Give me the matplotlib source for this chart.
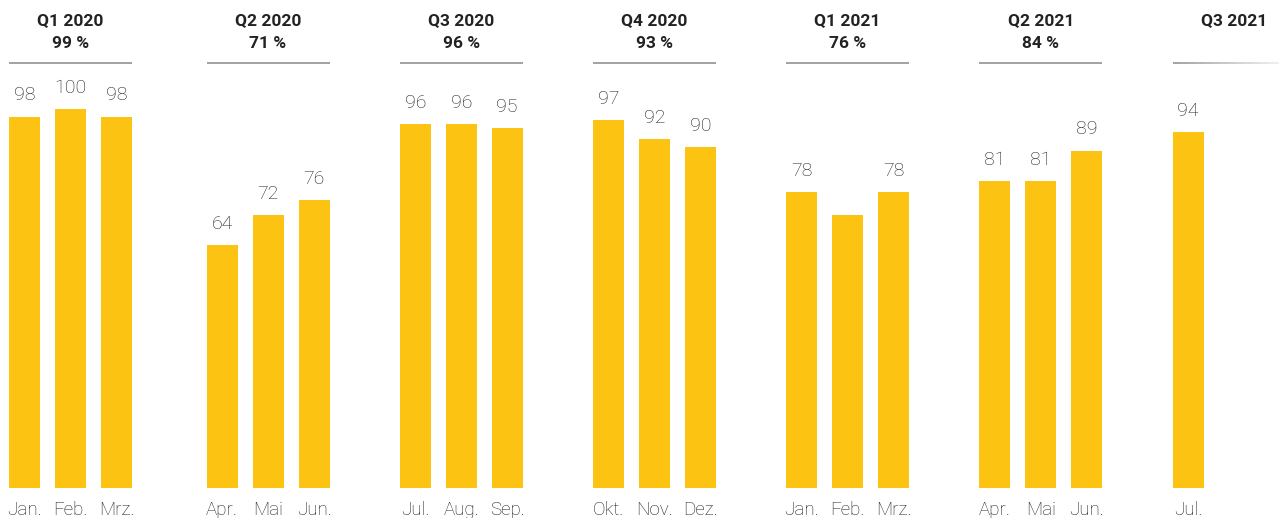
import numpy as np
import matplotlib
matplotlib.use("Agg")
import matplotlib.pyplot as plt
from matplotlib.collections import LineCollection

plt.rcParams['font.family'] = ['Roboto', 'DejaVu Sans']

# data
quarters = ['Q1 2020', 'Q2 2020', 'Q3 2020', 'Q4 2020', 'Q1 2021', 'Q2 2021', 'Q3 2021']
quarter_pct = [99, 71, 96, 93, 76, 84, None]
months = [['Jan.', 'Feb.', 'Mrz.'], ['Apr.', 'Mai', 'Jun.'], ['Jul.', 'Aug.', 'Sep.'],
          ['Okt.', 'Nov.', 'Dez.'], ['Jan.', 'Feb.', 'Mrz.'], ['Apr.', 'Mai', 'Jun.'],
          ['Jul.']]
values = [[98, 100, 98], [64, 72, 76], [96, 96, 95], [97, 92, 90],
          [78, 72, 78], [81, 81, 89], [94]]
show_label = [[1, 1, 1], [1, 1, 1], [1, 1, 1], [1, 1, 1], [1, 0, 1], [1, 1, 1], [1]]

bar_color = '#FDC312'
txt_color = '#1e1e1e'
head_color = '#222222'
starts = [-0.09, 4.2, 8.4, 12.6, 16.8, 21.0, 25.2]
w = 31 / 46

fig = plt.figure(figsize=(12.79, 5.18), dpi=100)
ax = fig.add_axes([0, 30 / 518, 1, 488 / 518])
ax.set_xlim(-28.8 / 46, (1279 - 28.8) / 46)
ax.set_ylim(0, 488 / 3.79)
ax.axis('off')

for g, q in enumerate(quarters):
    xs = starts[g] + np.arange(len(values[g]))
    ax.bar(xs, values[g], width=w, color=bar_color, edgecolor='none')
    for x, v, m, s in zip(xs, values[g], months[g], show_label[g]):
        if s:
            ax.text(x, v + 5.6, str(v), ha='center', va='center', fontsize=14,
                    color=txt_color, fontweight='light')
        ax.text(x, -5.9, m, ha='center', va='center', fontsize=13.5,
                color=txt_color, fontweight='light', clip_on=False)
    xc = starts[g] + 1
    ax.text(xc, 123.4, q, ha='center', va='center', fontsize=12.5,
            fontweight='bold', color=head_color)
    if quarter_pct[g] is not None:
        ax.text(xc, 117.4, f'{quarter_pct[g]} %', ha='center', va='center',
                fontsize=12.5, fontweight='bold', color=head_color)
        ax.plot([xc - 1 - w / 2, xc + 1 + w / 2], [112.1, 112.1], color='#9a9a9a',
                lw=1.3, solid_capstyle='butt')
    else:
        # fading rule
        x0 = starts[g] - w / 2
        x1 = ax.get_xlim()[1]
        n = 60
        px = np.linspace(x0, x1, n + 1)
        segs = [[(px[i], 112.1), (px[i + 1], 112.1)] for i in range(n)]
        cols = [(0.6, 0.6, 0.6, 1 - 0.85 * i / n) for i in range(n)]
        ax.add_collection(LineCollection(segs, colors=cols, linewidths=1.3))

fig.savefig('out.png', dpi=100)
